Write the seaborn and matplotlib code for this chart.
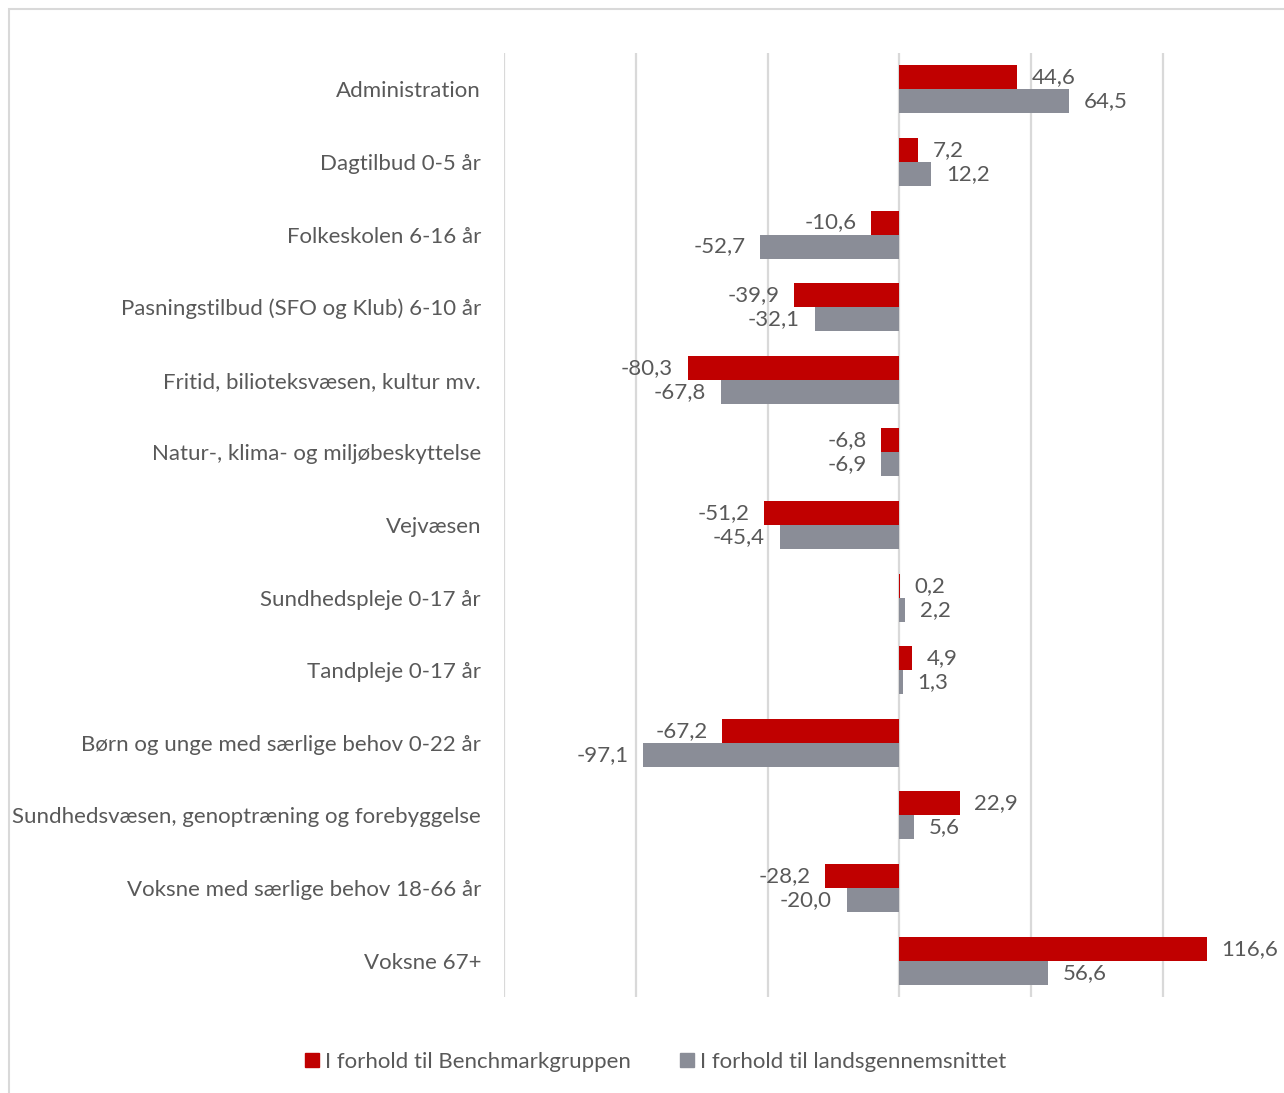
import matplotlib.pyplot as plt
import pandas as pd
import seaborn as sns
from matplotlib.patches import Rectangle

categories = [
    "Administration",
    "Dagtilbud 0-5 år",
    "Folkeskolen 6-16 år",
    "Pasningstilbud (SFO og Klub) 6-10 år",
    "Fritid, bilioteksvæsen, kultur mv.",
    "Natur-, klima- og miljøbeskyttelse",
    "Vejvæsen",
    "Sundhedspleje 0-17 år",
    "Tandpleje 0-17 år",
    "Børn og unge med særlige behov 0-22 år",
    "Sundhedsvæsen, genoptræning og forebyggelse",
    "Voksne med særlige behov 18-66 år",
    "Voksne 67+",
]
benchmark = [44.6, 7.2, -10.6, -39.9, -80.3, -6.8, -51.2, 0.2, 4.9, -67.2, 22.9, -28.2, 116.6]
lands = [64.5, 12.2, -52.7, -32.1, -67.8, -6.9, -45.4, 2.2, 1.3, -97.1, 5.6, -20.0, 56.6]
series = ["I forhold til Benchmarkgruppen", "I forhold til landsgennemsnittet"]
colors = ["#C00000", "#8A8D97"]

df = pd.DataFrame({
    "kategori": categories * 2,
    "værdi": benchmark + lands,
    "serie": [series[0]] * len(categories) + [series[1]] * len(categories),
})

sns.set_style("white")
plt.rcParams["font.family"] = ["Lato", "DejaVu Sans"]
txt = "#595959"
fs = 16

fig = plt.figure(figsize=(12.84, 10.93), dpi=100)
ax = fig.add_axes([504 / 1284, 1 - 997 / 1093, 1 - 504 / 1284, (997 - 53) / 1093])

sns.barplot(data=df, y="kategori", x="værdi", hue="serie", palette=colors,
            orient="h", width=0.66, saturation=1, linewidth=0, ax=ax, legend=False)

for cont, vals in zip(ax.containers, [benchmark, lands]):
    ax.bar_label(cont, labels=[f"{v:.1f}".replace(".", ",") for v in vals],
                 padding=10.5, fontsize=fs, color=txt)

ax.set_xlim(-150, 146)
ax.set_ylim(12.5, -0.5)
ax.set_xticks([-150, -100, -50, 0, 50, 100])
ax.set_xticklabels([])
ax.grid(axis="x", color="#D9D9D9", linewidth=1.6)
ax.set_axisbelow(True)
for s in ax.spines.values():
    s.set_visible(False)
ax.tick_params(axis="y", length=0, pad=16.5, labelsize=fs, labelcolor=txt)
ax.tick_params(axis="x", length=0)
ax.set_xlabel("")
ax.set_ylabel("")

handles = [Rectangle((0, 0), 1, 1, color=c) for c in colors]
fig.legend(handles, series, loc="center", bbox_to_anchor=(656 / 1284, 1 - 1062 / 1093),
           ncol=2, frameon=False, fontsize=fs, labelcolor=txt,
           handlelength=0.6, handleheight=0.6, handletextpad=0.3, columnspacing=2.2)

fig.patches.append(Rectangle((9 / 1284, -0.1), 1.2, 1.1 - 9 / 1093,
                             transform=fig.transFigure, fill=False,
                             edgecolor="#D9D9D9", linewidth=1.5))

fig.savefig("out.png", dpi=100)
